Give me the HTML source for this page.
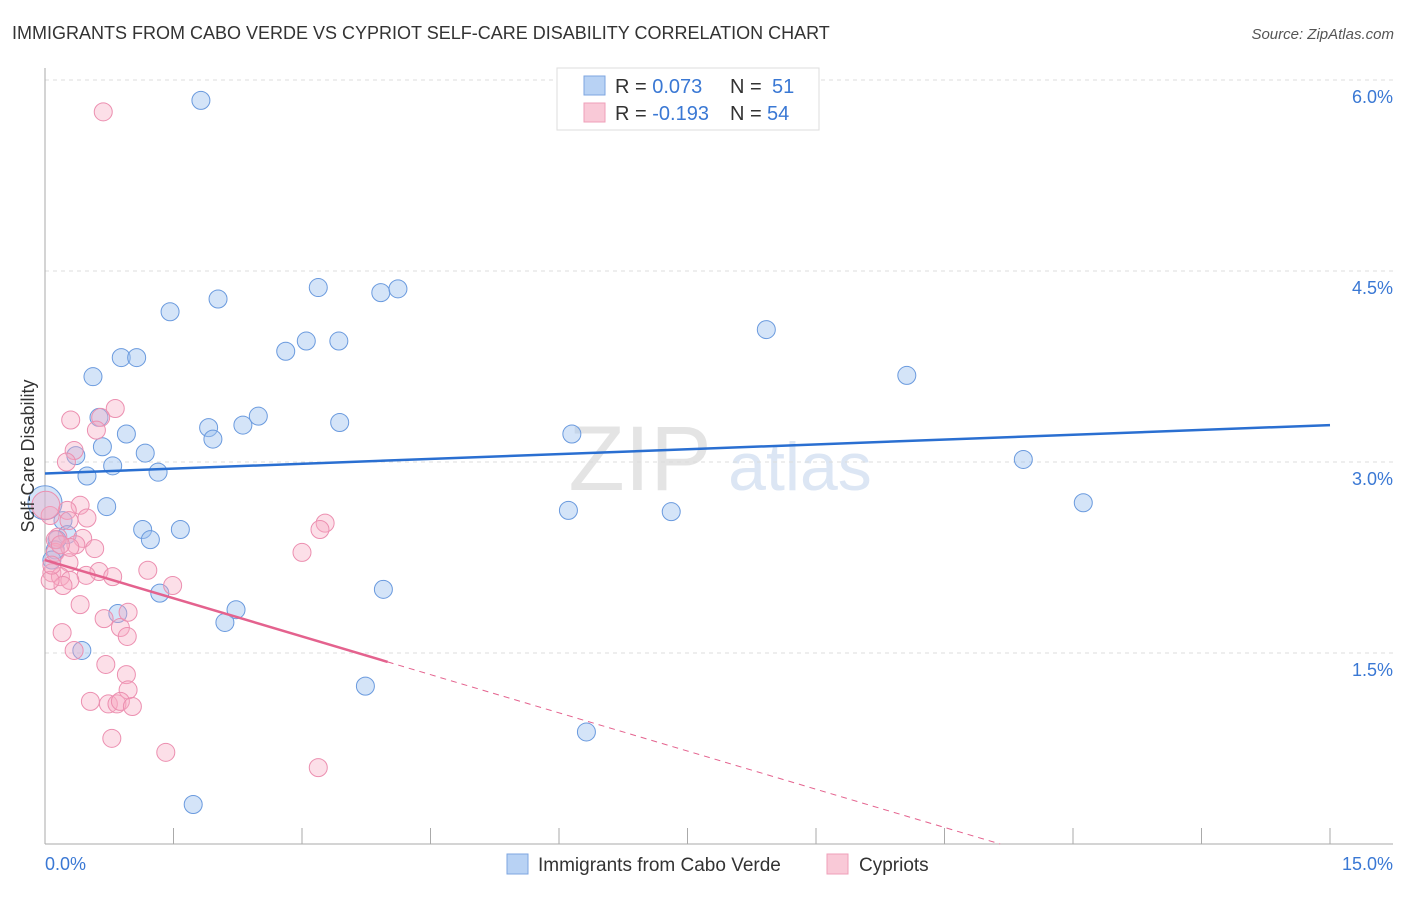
<!DOCTYPE html>
<html><head><meta charset="utf-8"><style>
body{margin:0;background:#fff;font-family:"Liberation Sans",sans-serif}
svg text{font-family:"Liberation Sans",sans-serif}
</style></head><body>
<svg id="c" width="1406" height="892">
<text x="12" y="39" font-size="18" fill="#333">IMMIGRANTS FROM CABO VERDE VS CYPRIOT SELF-CARE DISABILITY CORRELATION CHART</text>
<text x="1394" y="39" font-size="15" fill="#555" font-style="italic" text-anchor="end">Source: ZipAtlas.com</text>
<text x="640" y="490" font-size="92" fill="#e4e4e4" font-family="Liberation Serif" text-anchor="middle">ZIP</text>
<text x="800" y="490" font-size="68" fill="#dce6f4" text-anchor="middle">atlas</text>
<g id="grid"></g>
<g id="axes"></g>
<g id="pts"></g>
<g id="trend"></g>
<text transform="translate(34,456) rotate(-90)" font-size="18" fill="#333" text-anchor="middle">Self-Care Disability</text>
<g>
<rect x="557" y="68" width="262" height="62" fill="#fff" stroke="#ddd"/>
<rect x="584" y="76" width="21" height="19" fill="#b8d2f4" stroke="#7ea6e0"/>
<rect x="584" y="103" width="21" height="19" fill="#f9c9d7" stroke="#ef9fb8"/>
<text x="615" y="93" font-size="20" fill="#333">R = <tspan fill="#3a78d4"> 0.073</tspan><tspan x="730">N = </tspan><tspan fill="#3a78d4" x="772">51</tspan></text>
<text x="615" y="120" font-size="20" fill="#333">R = <tspan fill="#3a78d4">-0.193</tspan><tspan x="730">N = </tspan><tspan fill="#3a78d4" x="767">54</tspan></text>
</g>
<g>
<rect x="507" y="854" width="21" height="20" fill="#b8d2f4" stroke="#7ea6e0"/>
<text x="538" y="871" font-size="19" fill="#333">Immigrants from Cabo Verde</text>
<rect x="827" y="854" width="21" height="20" fill="#f9c9d7" stroke="#ef9fb8"/>
<text x="859" y="871" font-size="19" fill="#333">Cypriots</text>
</g>
</svg>
<script>
const yTicks=[1.5,3.0,4.5,6.0];
const yTickLabels=["1.5%","3.0%","4.5%","6.0%"];
const xTicks=[0,1.5,3,4.5,6,7.5,9,10.5,12,13.5,15];
const xEndLabels=["0.0%","15.0%"];
const blueX=[1.82,1.46,2.02,3.19,3.92,4.12,2.81,3.05,3.43,0.89,1.07,0.56,8.42,10.06,0.63,0.95,1.91,1.96,2.31,2.49,3.44,0.67,0.36,1.17,0.79,1.32,0.49,6.15,11.42,12.12,0.72,6.11,7.31,0.21,1.14,1.58,1.23,0.26,0.14,0.12,3.95,1.34,0.85,2.23,2.10,0.43,3.74,6.32,1.73,0.08,0];
const blueY=[5.84,4.18,4.28,4.37,4.33,4.36,3.87,3.95,3.95,3.82,3.82,3.67,4.04,3.68,3.35,3.22,3.27,3.18,3.29,3.36,3.31,3.12,3.05,3.07,2.97,2.92,2.89,3.22,3.02,2.68,2.65,2.62,2.61,2.54,2.47,2.47,2.39,2.43,2.39,2.31,2.00,1.97,1.81,1.84,1.74,1.52,1.24,0.88,0.31,2.23,2.68];
const pinkX=[0.68,0.30,0.82,0.65,0.60,0.34,0.25,0.41,0.26,0.49,0.28,0.06,0.15,0.44,0.36,0.12,0.28,0.63,0.48,0.79,0.08,0.18,0.29,0.21,1.20,1.49,0.41,3.27,3.21,3.00,0.20,0.69,0.88,0.97,0.96,0.34,0.71,0.95,0.97,0.53,0.74,0.84,0.88,1.02,0.78,1.41,3.19,0.06,0.12,0.29,0.58,0.08,0.18,0.01];
const pinkY=[5.75,3.33,3.42,3.35,3.25,3.09,3.00,2.66,2.62,2.56,2.54,2.58,2.41,2.40,2.35,2.29,2.21,2.14,2.11,2.10,2.13,2.10,2.07,2.03,2.15,2.03,1.88,2.52,2.47,2.29,1.66,1.77,1.70,1.82,1.63,1.52,1.41,1.33,1.21,1.12,1.10,1.10,1.12,1.08,0.83,0.72,0.60,2.07,2.39,2.33,2.32,2.19,2.35,2.66];
const blueTrend=[2.91,3.29];
const pinkTrend=[2.23,-0.2];
const sx=v=>45+v/15*1285, sy=v=>844-v/1.5*191;
const NS="http://www.w3.org/2000/svg";
function mk(t,a,p){const e=document.createElementNS(NS,t);for(const k in a)e.setAttribute(k,a[k]);p.appendChild(e);return e;}
const grid=document.getElementById('grid'),axes=document.getElementById('axes'),pts=document.getElementById('pts'),tr=document.getElementById('trend');
yTicks.forEach((v,i)=>{
 const l=mk('line',{x1:45,x2:1393,y1:sy(v),y2:sy(v),stroke:'#ddd','stroke-dasharray':'4,4'},grid);
 
 
 const t=mk('text',{x:1393,y:sy(v)+23,'text-anchor':'end','font-size':18,fill:'#3a78d4'},grid);
 t.textContent=yTickLabels[i];
 
 
});
const ya=mk('line',{x1:45,x2:45,y1:68,y2:844,stroke:'#aaa'},axes);


const xa=mk('line',{x1:45,x2:1393,y1:844,y2:844,stroke:'#aaa'},axes);


xTicks.forEach(v=>{const t=mk('line',{x1:sx(v),x2:sx(v),y1:828,y2:844,stroke:'#aaa'},axes);
 
 });
const xl0=mk('text',{x:45,y:870,'font-size':18,fill:'#3a78d4'},axes);xl0.textContent=xEndLabels[0];


const xl1=mk('text',{x:1393,y:870,'font-size':18,fill:'#3a78d4','text-anchor':'end'},axes);xl1.textContent=xEndLabels[1];


blueX.forEach((x,i)=>{const c=mk('circle',{cx:sx(x),cy:sy(blueY[i]),r:x===0?17:9,fill:'rgba(160,196,240,0.45)',stroke:'#6a9ade','stroke-width':1},pts);
 
 });
pinkX.forEach((x,i)=>{const c=mk('circle',{cx:sx(x),cy:sy(pinkY[i]),r:x<0.02?14:9,fill:'rgba(246,170,195,0.38)',stroke:'#ec8fb0','stroke-width':1},pts);
 
 });
const bl=mk('line',{x1:sx(0),y1:sy(blueTrend[0]),x2:sx(15),y2:sy(blueTrend[1]),stroke:'#2a6fd1','stroke-width':2.5},tr);


const pe=4.0, pz=-pinkTrend[0]/pinkTrend[1];
const ps=mk('line',{x1:sx(0),y1:sy(pinkTrend[0]),x2:sx(pe),y2:sy(pinkTrend[0]+pinkTrend[1]*pe),stroke:'#e4628e','stroke-width':2.5},tr);


const pd=mk('line',{x1:sx(pe),y1:sy(pinkTrend[0]+pinkTrend[1]*pe),x2:sx(pz),y2:sy(0),stroke:'#e4628e','stroke-width':1,'stroke-dasharray':'6,5'},tr);


</script>
</body></html>
